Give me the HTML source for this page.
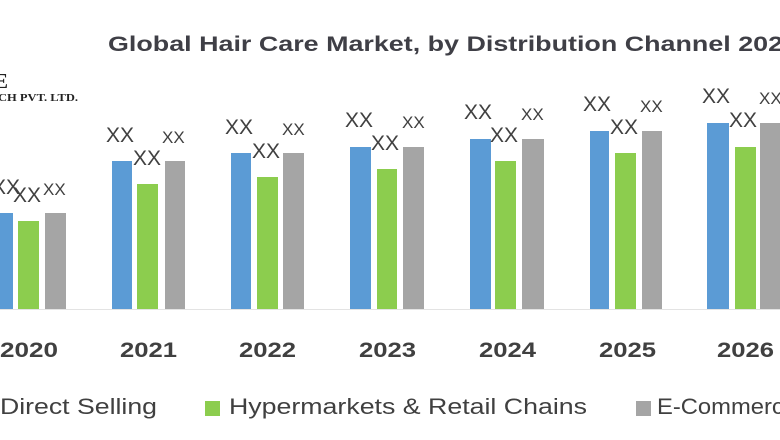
<!DOCTYPE html>
<html><head><meta charset="utf-8"><style>
html,body{margin:0;padding:0;background:#fff;width:780px;height:440px;overflow:hidden}
svg{display:block}
text{font-family:"Liberation Sans",sans-serif}
text.serif{font-family:"Liberation Serif",serif}
</style></head><body>
<svg width="780" height="440" viewBox="0 0 780 440" xmlns="http://www.w3.org/2000/svg">
<rect width="780" height="440" fill="#fff"/>
<text x="108" y="51" font-size="21" font-weight="bold" fill="#3f3f46" textLength="690" lengthAdjust="spacingAndGlyphs">Global Hair Care Market, by Distribution Channel 2020</text>
<text class="serif" x="-6" y="88" font-size="21" font-weight="bold" fill="#222">E</text>
<text class="serif" x="-2" y="101" font-size="11" font-weight="bold" fill="#222" textLength="80" lengthAdjust="spacingAndGlyphs">CH PVT. LTD.</text>
<line x1="0" y1="309.5" x2="780" y2="309.5" stroke="#e3e3e3" stroke-width="1"/>
<g id="bars">
<rect x="-7" y="213" width="20" height="96" fill="#5b9bd5"/>
<rect x="18" y="221" width="21" height="88" fill="#8ccd4e"/>
<rect x="45" y="213" width="21" height="96" fill="#a5a5a5"/>
<rect x="112" y="161" width="20" height="148" fill="#5b9bd5"/>
<rect x="137" y="184" width="21" height="125" fill="#8ccd4e"/>
<rect x="165" y="161" width="20" height="148" fill="#a5a5a5"/>
<rect x="231" y="153" width="20" height="156" fill="#5b9bd5"/>
<rect x="257" y="177" width="21" height="132" fill="#8ccd4e"/>
<rect x="283" y="153" width="21" height="156" fill="#a5a5a5"/>
<rect x="350" y="147" width="21" height="162" fill="#5b9bd5"/>
<rect x="377" y="169" width="20" height="140" fill="#8ccd4e"/>
<rect x="403" y="147" width="21" height="162" fill="#a5a5a5"/>
<rect x="470" y="139" width="21" height="170" fill="#5b9bd5"/>
<rect x="495" y="161" width="21" height="148" fill="#8ccd4e"/>
<rect x="522" y="139" width="22" height="170" fill="#a5a5a5"/>
<rect x="590" y="131" width="19" height="178" fill="#5b9bd5"/>
<rect x="615" y="153" width="21" height="156" fill="#8ccd4e"/>
<rect x="642" y="131" width="20" height="178" fill="#a5a5a5"/>
<rect x="707" y="123" width="22" height="186" fill="#5b9bd5"/>
<rect x="735" y="147" width="21" height="162" fill="#8ccd4e"/>
<rect x="760" y="123" width="22" height="186" fill="#a5a5a5"/>
</g>
<g fill="#404040" font-size="21">
<text x="-8" y="194">XX</text><text x="13" y="202">XX</text><text x="43" y="195" font-size="17">XX</text>
<text x="106" y="142">XX</text><text x="133" y="165">XX</text><text x="162" y="143" font-size="17">XX</text>
<text x="225" y="134">XX</text><text x="252" y="158">XX</text><text x="282" y="135" font-size="17">XX</text>
<text x="345" y="127">XX</text><text x="371" y="150">XX</text><text x="402" y="128" font-size="17">XX</text>
<text x="464" y="119">XX</text><text x="490" y="142">XX</text><text x="521" y="120" font-size="17">XX</text>
<text x="583" y="111">XX</text><text x="610" y="134">XX</text><text x="640" y="112" font-size="17">XX</text>
<text x="702" y="103">XX</text><text x="729" y="127">XX</text><text x="759" y="104" font-size="17">XX</text>
</g>
<g fill="#404040" font-size="21" font-weight="bold">
<text x="0" y="357" textLength="58" lengthAdjust="spacingAndGlyphs">2020</text>
<text x="120" y="357" textLength="57" lengthAdjust="spacingAndGlyphs">2021</text>
<text x="239" y="357" textLength="57" lengthAdjust="spacingAndGlyphs">2022</text>
<text x="359" y="357" textLength="57" lengthAdjust="spacingAndGlyphs">2023</text>
<text x="479" y="357" textLength="57" lengthAdjust="spacingAndGlyphs">2024</text>
<text x="599" y="357" textLength="57" lengthAdjust="spacingAndGlyphs">2025</text>
<text x="717" y="357" textLength="57" lengthAdjust="spacingAndGlyphs">2026</text>
</g>
<g fill="#404040" font-size="22">
<text x="0" y="414" textLength="157" lengthAdjust="spacingAndGlyphs">Direct Selling</text>
<rect x="205" y="401" width="15" height="15" fill="#8ccd4e"/>
<text x="229" y="414" textLength="358" lengthAdjust="spacingAndGlyphs">Hypermarkets &amp; Retail Chains</text>
<rect x="636" y="401" width="15" height="15" fill="#a5a5a5"/>
<text x="657" y="414" textLength="140" lengthAdjust="spacingAndGlyphs">E-Commerce</text>
</g>
</svg>
</body></html>
